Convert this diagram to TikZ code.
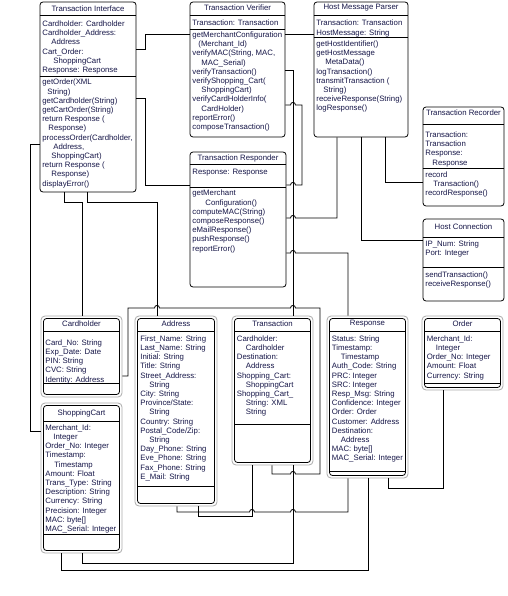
\documentclass[tikz,border=0pt]{standalone}
\usepackage{fontspec}
\setmainfont{Liberation Sans}
\definecolor{ink}{RGB}{22,22,72}
\newcommand{\umlfont}{\fontsize{7.8}{9.2}\selectfont}
\tikzset{
  cls/.style={draw, rounded corners=3pt, fill=white, inner sep=0pt},
  shell/.style={draw=gray!65, rounded corners=4pt, fill=white, inner sep=0pt},
  core/.style={draw, rounded corners=3pt, inner sep=0pt},
  ttl/.style={font=\umlfont, text=ink, inner sep=0pt},
  mbr/.style={font=\umlfont, text=ink, align=left, anchor=north west, inner sep=0pt},
  wire/.style={line width=0.8pt}
}

\begin{document}
\begin{tikzpicture}[x=1pt, y=-1pt, line width=0.8pt]
    \path[use as bounding box, fill=white] (0,0) rectangle (507,596);

    \node[cls, minimum width=96pt, minimum height=190pt] (ti) at (88,97) {};
    \draw (ti.west |- 0,15) -- (ti.east |- 0,15);
    \draw (ti.west |- 0,76) -- (ti.east |- 0,76);
    \node[ttl] (ti-t) at (88,8.3) {Transaction Interface};
    \node[mbr] (ti-a) at (42,20.4) {Cardholder: Cardholder\\Cardholder\_Address:\\\hspace*{9pt}Address\\Cart\_Order:\\\hspace*{11pt}ShoppingCart\\Response: Response};
    \node[mbr] (ti-m) at (42,78.8) {getOrder(XML\\\hspace*{5pt}String)\\getCardholder(String)\\getCartOrder(String)\\return Response (\\\hspace*{6pt}Response)\\processOrder(Cardholder,\\\hspace*{11pt}Address,\\\hspace*{9pt}ShoppingCart)\\return Response (\\\hspace*{9pt}Response)\\displayError()};

    \node[cls, minimum width=95pt, minimum height=135pt] (tv) at (237.5,69.5) {};
    \draw (tv.west |- 0,15) -- (tv.east |- 0,15);
    \draw (tv.west |- 0,29) -- (tv.east |- 0,29);
    \node[ttl] (tv-t) at (237.5,7.5) {Transaction Verifier};
    \node[mbr] (tv-a) at (192,19.8) {Transaction: Transaction};
    \node[mbr] (tv-m) at (192,31.4) {getMerchantConfiguration\\\hspace*{6pt}(Merchant\_Id)\\verifyMAC(String, MAC,\\\hspace*{9pt}MAC\_Serial)\\verifyTransaction()\\verifyShopping\_Cart(\\\hspace*{9pt}ShoppingCart)\\verifyCardHolderInfo(\\\hspace*{9pt}CardHolder)\\reportError()\\composeTransaction()};

    \node[cls, minimum width=94pt, minimum height=135pt] (hmp) at (361,69.5) {};
    \draw (hmp.west |- 0,15) -- (hmp.east |- 0,15);
    \draw (hmp.west |- 0,37) -- (hmp.east |- 0,37);
    \node[ttl] (hmp-t) at (361,7.5) {Host Message Parser};
    \node[mbr] (hmp-a) at (316,19.8) {Transaction: Transaction\\HostMessage: String};
    \node[mbr] (hmp-m) at (316,40.4) {getHostIdentifier()\\getHostMessage\\\hspace*{9pt}MetaData()\\logTransaction()\\transmitTransaction (\\\hspace*{7pt}String)\\receiveResponse(String)\\logResponse()};

    \node[cls, minimum width=96pt, minimum height=135pt] (tr) at (238,219.5) {};
    \draw (tr.west |- 0,164) -- (tr.east |- 0,164);
    \draw (tr.west |- 0,187) -- (tr.east |- 0,187);
    \node[ttl] (tr-t) at (238,158.3) {Transaction Responder};
    \node[mbr] (tr-a) at (192,168.8) {Response: Response};
    \node[mbr] (tr-m) at (192,189.8) {getMerchant\\\hspace*{13pt}Configuration()\\computeMAC(String)\\composeResponse()\\eMailResponse()\\pushResponse()\\reportError()};

    \node[cls, minimum width=81pt, minimum height=99pt] (trec) at (463.5,156.5) {};
    \draw (trec.west |- 0,124) -- (trec.east |- 0,124);
    \draw (trec.west |- 0,168) -- (trec.east |- 0,168);
    \node[ttl] (trec-t) at (463.5,112.5) {Transaction Recorder};
    \node[mbr] (trec-a) at (425,131.4) {Transaction:\\Transaction\\Response:\\\hspace*{7pt}Response};
    \node[mbr] (trec-m) at (425,171.4) {record\\\hspace*{8pt}Transaction()\\recordResponse()};

    \node[cls, minimum width=81pt, minimum height=82pt] (hc) at (463.5,260) {};
    \draw (hc.west |- 0,237) -- (hc.east |- 0,237);
    \draw (hc.west |- 0,267) -- (hc.east |- 0,267);
    \node[ttl] (hc-t) at (463.5,226.5) {Host Connection};
    \node[mbr] (hc-a) at (425,240.2) {IP\_Num: String\\Port: Integer};
    \node[mbr] (hc-m) at (425,271.2) {sendTransaction()\\receiveResponse()};

    \node[shell, minimum width=81pt, minimum height=81pt] (ch) at (81.5,356.5) {};
    \node[core, minimum width=76pt, minimum height=76pt] (ch-in) at (ch) {};
    \draw (ch-in.west |- 0,331) -- (ch-in.east |- 0,331);
    \draw (ch-in.west |- 0,383) -- (ch-in.east |- 0,383);
    \node[ttl] (ch-t) at (81.5,324) {Cardholder};
    \node[mbr] (ch-a) at (45,339.2) {Card\_No: String\\Exp\_Date: Date\\PIN: String\\CVC: String\\Identity: Address};

    \node[shell, minimum width=81pt, minimum height=150pt] (sc) at (81.5,478) {};
    \node[core, minimum width=76pt, minimum height=145pt] (sc-in) at (sc) {};
    \draw (sc-in.west |- 0,421) -- (sc-in.east |- 0,421);
    \draw (sc-in.west |- 0,534) -- (sc-in.east |- 0,534);
    \node[ttl] (sc-t) at (81.5,413) {ShoppingCart};
    \node[mbr] (sc-a) at (45,424.2) {Merchant\_Id:\\\hspace*{8pt}Integer\\Order\_No: Integer\\Timestamp:\\\hspace*{9pt}Timestamp\\Amount: Float\\Trans\_Type: String\\Description: String\\Currency: String\\Precision: Integer\\MAC: byte[]\\MAC\_Serial: Integer};

    \node[shell, minimum width=82pt, minimum height=190pt] (adr) at (176,411) {};
    \node[core, minimum width=77pt, minimum height=185pt] (adr-in) at (adr) {};
    \draw (adr-in.west |- 0,331) -- (adr-in.east |- 0,331);
    \draw (adr-in.west |- 0,486) -- (adr-in.east |- 0,486);
    \node[ttl] (adr-t) at (176,324) {Address};
    \node[mbr] (adr-a) at (140,335.2) {First\_Name: String\\Last\_Name: String\\Initial: String\\Title: String\\Street\_Address:\\\hspace*{9pt}String\\City: String\\Province/State:\\\hspace*{9pt}String\\Country: String\\Postal\_Code/Zip:\\\hspace*{9pt}String\\Day\_Phone: String\\Eve\_Phone: String\\Fax\_Phone: String\\E\_Mail: String};

    \node[shell, minimum width=81pt, minimum height=149pt] (tx) at (272.5,390.5) {};
    \node[core, minimum width=76pt, minimum height=144pt] (tx-in) at (tx) {};
    \draw (tx-in.west |- 0,331) -- (tx-in.east |- 0,331);
    \draw (tx-in.west |- 0,424) -- (tx-in.east |- 0,424);
    \node[ttl] (tx-t) at (272.5,324) {Transaction};
    \node[mbr] (tx-a) at (236.5,335.2) {Cardholder:\\\hspace*{9pt}Cardholder\\Destination:\\\hspace*{9pt}Address\\Shopping\_Cart:\\\hspace*{9pt}ShoppingCart\\Shopping\_Cart\_\\\hspace*{9pt}String: XML\\\hspace*{9pt}String};

    \node[shell, minimum width=81pt, minimum height=162pt] (rsp) at (367.5,397) {};
    \node[core, minimum width=76pt, minimum height=157pt] (rsp-in) at (rsp) {};
    \draw (rsp-in.west |- 0,331) -- (rsp-in.east |- 0,331);
    \draw (rsp-in.west |- 0,471) -- (rsp-in.east |- 0,471);
    \node[ttl] (rsp-t) at (367.5,324) {Response};
    \node[mbr] (rsp-a) at (331.5,335.2) {Status: String\\Timestamp:\\\hspace*{9pt}Timestamp\\Auth\_Code: String\\PRC: Integer\\SRC: Integer\\Resp\_Msg: String\\Confidence: Integer\\Order: Order\\Customer: Address\\Destination:\\\hspace*{9pt}Address\\MAC: byte[]\\MAC\_Serial: Integer};

    \node[shell, minimum width=81pt, minimum height=74pt] (ord) at (462.5,353) {};
    \node[core, minimum width=76pt, minimum height=69pt] (ord-in) at (ord) {};
    \draw (ord-in.west |- 0,331) -- (ord-in.east |- 0,331);
    \draw (ord-in.west |- 0,383) -- (ord-in.east |- 0,383);
    \node[ttl] (ord-t) at (462.5,324) {Order};
    \node[mbr] (ord-a) at (426.5,335.2) {Merchant\_Id:\\\hspace*{9pt}Integer\\Order\_No: Integer\\Amount: Float\\Currency: String};

    \draw[wire] (ti.east |- 0,49) -- (145,49) -- (145,34) -- (tv.west |- 0,34);
    \draw[wire] (tv.east |- 0,34) -- (hmp.west |- 0,34);
    \draw[wire] (ti.east |- 0,98) -- (145,98) -- (145,185) -- (tr.west |- 0,185);
    \draw[wire] (ti.west |- 0,144) -- (30,144) -- (30,431) -- (sc.west |- 0,431);
    \draw[wire] (64,0 |- ti.south) -- (64,202) -- (82,202) -- (82,0 |- ch.north);
    \draw[wire] (87,0 |- ti.south) -- (87,202) -- (157,202) -- (157,0 |- adr.north);
    \draw[wire] (tv.east |- 0,70) -- (293,70) -- (293,0 |- tx.north);
    \draw[wire] (tv.east |- 0,105) -- (290.5,105) .. controls +(0,-3.4) and +(0,-3.4) .. (295.5,105) -- (302,105)
        -- (302,185) -- (295.5,185) .. controls +(0,-3.4) and +(0,-3.4) .. (290.5,185) -- (tr.east |- 0,185);
    \draw[wire] (tr.east |- 0,218) -- (290.5,218) .. controls +(0,-3.4) and +(0,-3.4) .. (295.5,218) -- (337,218) -- (337,0 |- hmp.south);
    \draw[wire] (tr.east |- 0,253) -- (290.5,253) .. controls +(0,-3.4) and +(0,-3.4) .. (295.5,253) -- (348,253) -- (348,0 |- rsp.north);
    \draw[wire] (361,0 |- hmp.south) -- (361,240) -- (hc.west |- 0,240);
    \draw[wire] (385,0 |- hmp.south) -- (385,182) -- (trec.west |- 0,182);
    \draw[wire] (ch.east |- 0,376) -- (128,376) -- (128,308) -- (154.5,308) .. controls +(0,-3.4) and +(0,-3.4) .. (159.5,308)
        -- (290.5,308) .. controls +(0,-3.4) and +(0,-3.4) .. (295.5,308) -- (320,308) -- (320,474)
        -- (295.5,474) .. controls +(0,-3.4) and +(0,-3.4) .. (290.5,474) -- (272,474) -- (272,0 |- tx.south);
    \draw[wire] (177,0 |- adr.south) -- (177,512) -- (249.5,512) .. controls +(0,-3.4) and +(0,-3.4) .. (254.5,512)
        -- (290.5,512) .. controls +(0,-3.4) and +(0,-3.4) .. (295.5,512) -- (348,512) -- (348,0 |- rsp.south);
    \draw[wire] (198,0 |- adr.south) -- (198,516) -- (252,516) -- (252,0 |- tx.south);
    \draw[wire] (293,0 |- tx.south) -- (293,563) -- (82,563) -- (82,0 |- sc.south);
    \draw[wire] (368,0 |- rsp.south) -- (368,570) -- (61,570) -- (61,0 |- sc.south);
    \draw[wire] (388,0 |- rsp.south) -- (388,488) -- (443,488) -- (443,0 |- ord.south);
\end{tikzpicture}
\end{document}
